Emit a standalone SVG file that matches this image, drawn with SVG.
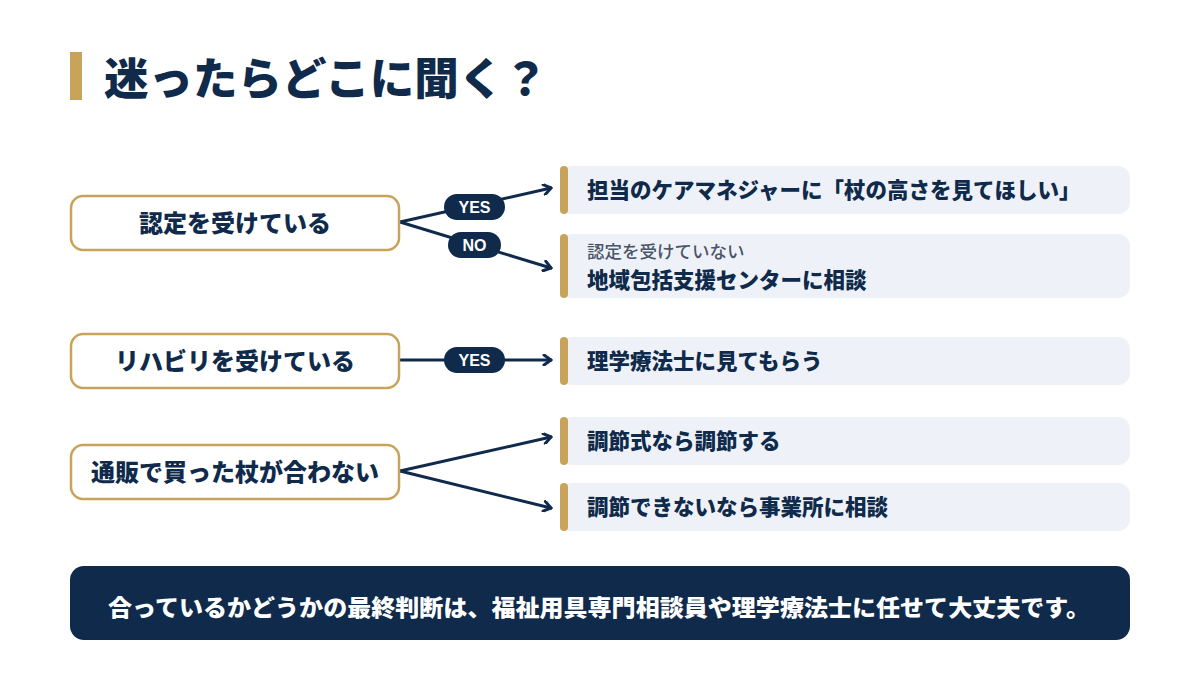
<svg xmlns="http://www.w3.org/2000/svg" width="1200" height="675" viewBox="0 0 1200 675">
<defs>
<style>
.t{font-family:"Noto Sans CJK JP","Noto Sans",sans-serif;font-weight:900;fill:#0f2a4a}
.q{fill:#fff;stroke:#c8a45a;stroke-width:2.5}
.a{fill:#eef2f8}
.g{fill:#c8a45a}
.c{stroke:#0f2a4a;stroke-width:3;fill:none;stroke-linecap:round}
.p{fill:#0f2a4a}
.pt{font-family:"Liberation Sans","Noto Sans",sans-serif;font-weight:700;fill:#fff;font-size:16px}
</style>
<marker id="ar" markerWidth="12" markerHeight="12" refX="9" refY="6" orient="auto" markerUnits="userSpaceOnUse">
<polyline points="2,1 9,6 2,11" fill="none" stroke="#0f2a4a" stroke-width="3" stroke-linecap="round" stroke-linejoin="round"/>
</marker>
</defs>
<rect width="1200" height="675" fill="#fff"/>
<g id="title">
<rect x="70" y="52" width="12" height="48" class="g"/>
<text x="104" y="95" class="t" font-size="44.5">迷ったらどこに聞く？</text>
</g>
<g id="connectors">
<line x1="400" y1="222" x2="551" y2="188" class="c" marker-end="url(#ar)"/>
<line x1="400" y1="222" x2="551" y2="268" class="c" marker-end="url(#ar)"/>
<line x1="400" y1="360" x2="551" y2="360" class="c" marker-end="url(#ar)"/>
<line x1="400" y1="471" x2="551" y2="437" class="c" marker-end="url(#ar)"/>
<line x1="400" y1="471" x2="551" y2="508" class="c" marker-end="url(#ar)"/>
<g id="pill-yes1"><rect x="444" y="194" width="61" height="26" rx="13" class="p"/><text x="474.5" y="213" class="pt" text-anchor="middle">YES</text></g>
<g id="pill-no"><rect x="448" y="232" width="53" height="26" rx="13" class="p"/><text x="474.5" y="251" class="pt" text-anchor="middle">NO</text></g>
<g id="pill-yes2"><rect x="444" y="347" width="61" height="26" rx="13" class="p"/><text x="474.5" y="366" class="pt" text-anchor="middle">YES</text></g>
</g>
<g id="q1"><rect x="71" y="196" width="328" height="54" rx="12" class="q"/><text x="235" y="232" class="t" font-size="24" text-anchor="middle">認定を受けている</text></g>
<g id="q2"><rect x="71" y="334" width="328" height="54" rx="12" class="q"/><text x="235" y="370" class="t" font-size="24" text-anchor="middle">リハビリを受けている</text></g>
<g id="q3"><rect x="71" y="445" width="328" height="54" rx="12" class="q"/><text x="235" y="481" class="t" font-size="24" text-anchor="middle">通販で買った杖が合わない</text></g>
<g id="a1"><rect x="560" y="166" width="570" height="48" rx="12" class="a"/><rect x="560" y="166" width="8" height="48" rx="4" class="g"/><text x="587" y="198" class="t" font-size="21.5">担当のケアマネジャーに「杖の高さを見てほしい」</text></g>
<g id="a2"><rect x="560" y="234" width="570" height="64" rx="12" class="a"/><rect x="560" y="234" width="8" height="64" rx="4" class="g"/><text x="587" y="258" font-family="Noto Sans CJK JP,sans-serif" font-weight="500" font-size="17.5" fill="#4a5568">認定を受けていない</text><text x="587" y="288" class="t" font-size="21.5">地域包括支援センターに相談</text></g>
<g id="a3"><rect x="560" y="337" width="570" height="48" rx="12" class="a"/><rect x="560" y="337" width="8" height="48" rx="4" class="g"/><text x="587" y="369" class="t" font-size="21.5">理学療法士に見てもらう</text></g>
<g id="a4"><rect x="560" y="417" width="570" height="48" rx="12" class="a"/><rect x="560" y="417" width="8" height="48" rx="4" class="g"/><text x="587" y="449" class="t" font-size="21.5">調節式なら調節する</text></g>
<g id="a5"><rect x="560" y="483" width="570" height="48" rx="12" class="a"/><rect x="560" y="483" width="8" height="48" rx="4" class="g"/><text x="587" y="515" class="t" font-size="21.5">調節できないなら事業所に相談</text></g>
<g id="banner"><rect x="70" y="566" width="1060" height="74" rx="14" fill="#0f2a4a"/><text x="108" y="616" class="t" font-size="23" textLength="982" lengthAdjust="spacingAndGlyphs" style="fill:#fff">合っているかどうかの最終判断は、福祉用具専門相談員や理学療法士に任せて大丈夫です。</text></g>
</svg>
